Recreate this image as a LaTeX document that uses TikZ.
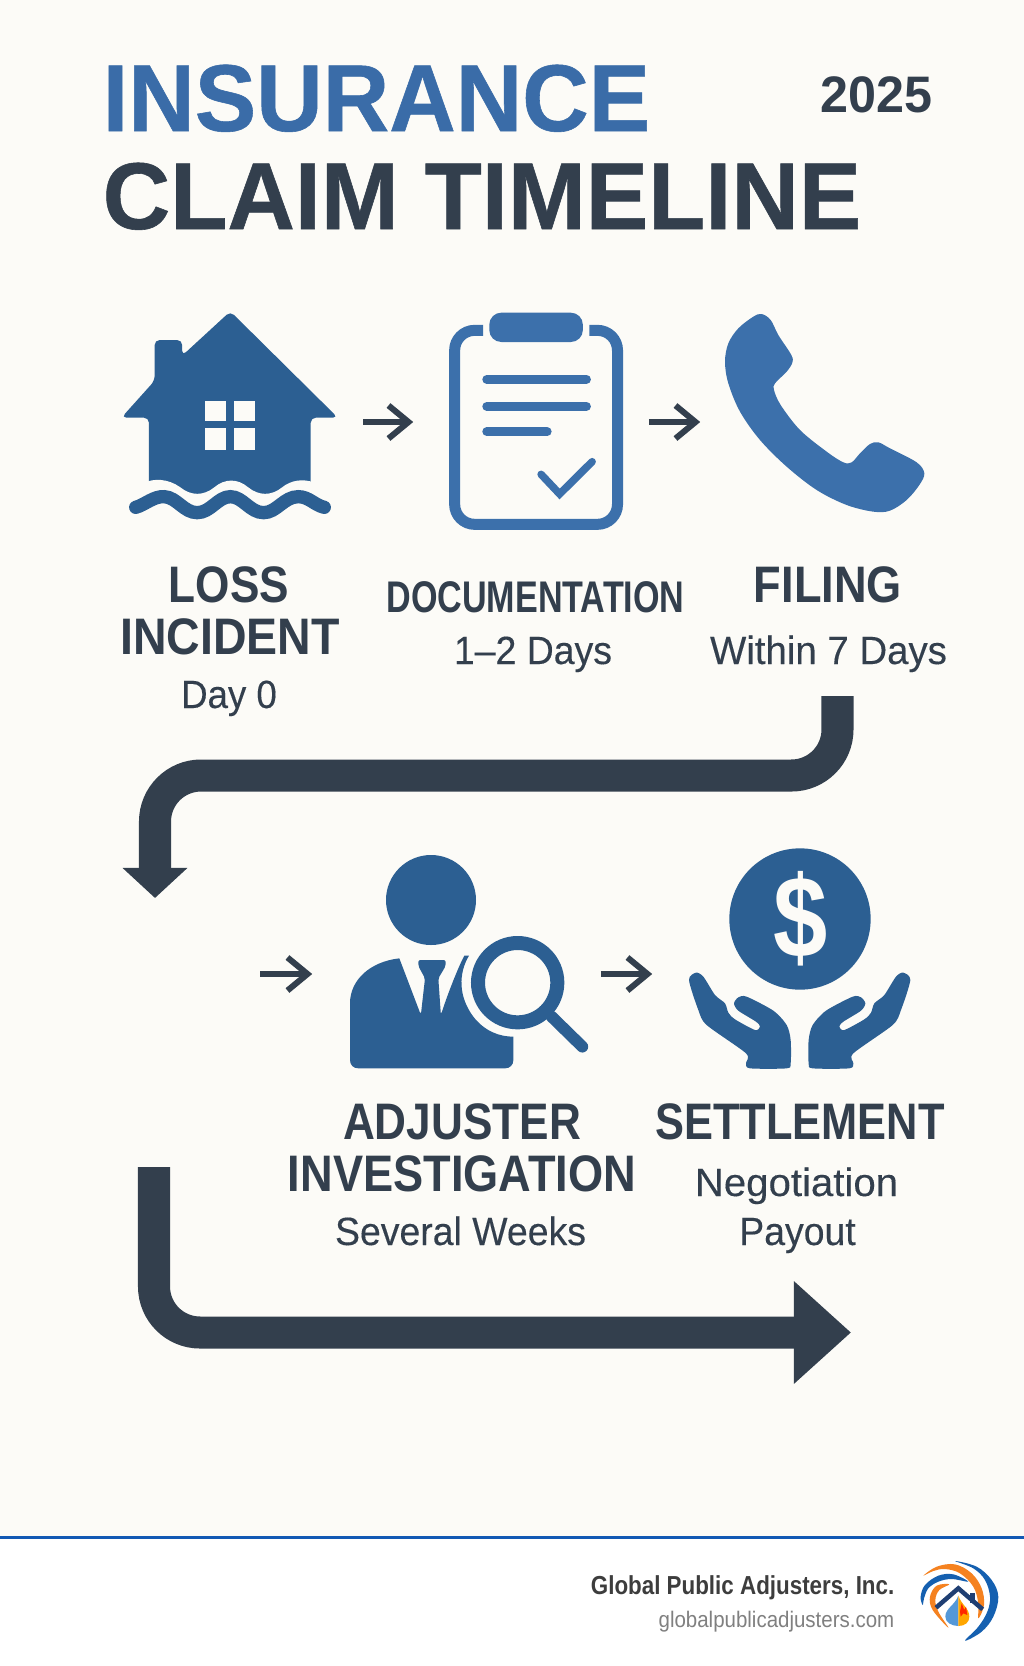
\documentclass[tikz,border=0pt]{standalone}
\usepackage{fontspec}
\usetikzlibrary{arrows.meta}
\setmainfont{Liberation Sans}
\newfontfamily\notefont[FakeBold=0.25]{Liberation Sans}
\newfontfamily\heavyfont[UprightFont=* Bold, FakeBold=0.6]{Liberation Sans}

\definecolor{paper}{HTML}{FCFBF7}
\definecolor{ink}{HTML}{333F4D}
\definecolor{deepblue}{HTML}{2C5F92}
\definecolor{midblue}{HTML}{3C70AB}
\definecolor{titleblue}{HTML}{3A6CA8}
\definecolor{rulecol}{HTML}{1259B4}
\definecolor{logoblue}{HTML}{1560B0}
\definecolor{logoorange}{HTML}{F58220}
\definecolor{roofcol}{HTML}{1F3F73}

\newcommand{\squeezed}[2]{\scalebox{#1}[1]{#2}}

\tikzset{
    txt/.style={anchor=base, inner sep=0pt, text=ink},
    headline/.style={txt, anchor=base west, font=\heavyfont\fontsize{27}{27}\selectfont},
    steptitle/.style={txt, font=\fontsize{14.6}{15}\selectfont\bfseries},
    stepnote/.style={txt, font=\notefont\fontsize{11.2}{12}\selectfont},
    iconbox/.style={inner sep=0pt, minimum height=0.4cm},
    smallarrow/.style={-{Straight Barb[length=2mm,width=3.3mm,line width=0.6mm]}, line width=0.6mm, color=ink},
    bigarrow/.style={line width=3.2mm, color=ink, rounded corners=4.6mm},
    wave/.style={line width=1.33mm, line cap=round, color=deepblue},
    bar/.style={line width=0.9mm, line cap=round, color=midblue},
}

\begin{document}
\begin{tikzpicture}[x=0.01cm, y=-0.01cm]

    \useasboundingbox (0,0) rectangle (1024,1666);

    % Page
    \fill[paper] (0,0) rectangle (1024,1537);
    \fill[white] (0,1537) rectangle (1024,1666);
    \draw[rulecol, line width=0.3mm] (0,1537) -- (1024,1537);

    %% Title
    \node[headline, text=titleblue] (title1) at (102,131) {\squeezed{0.97}{INSURANCE}};
    \node[headline] (title2) at (102,229) {\squeezed{0.985}{CLAIM TIMELINE}};
    \node[txt, font=\fontsize{14.6}{15}\selectfont\bfseries] (year) at (876.5,112) {\squeezed{0.98}{2025}};

    %% Icon places, first row
    \node[iconbox, minimum width=2.14cm] (house) at (229.5,422) {};
    \node[iconbox, minimum width=1.74cm] (clipboard) at (536,422) {};
    \node[iconbox, minimum width=2cm] (phone) at (825,422) {};

    % House
    \begin{scope}[shift={(100,290)}, xscale=0.35714, yscale=0.33333]
        \fill[deepblue, rounded corners=0.5mm] (365,64) -- (666,383) -- (590,383) -- (590,640) -- (137,640) -- (137,383) -- (60,383)
            -- (153,272) -- (153,150) -- (230,150) -- (230,197) -- cycle;
        \fill[paper] (125,578) .. controls (150,565) and (190,565) .. (225,592)
            .. controls (255,618) and (290,618) .. (320,592)
            .. controls (350,565) and (385,565) .. (415,592)
            .. controls (445,618) and (480,618) .. (510,592)
            .. controls (535,570) and (570,565) .. (600,578) -- (600,650) -- (125,650) -- cycle;
        \fill[paper] (293,332) rectangle (353,394);
        \fill[paper] (374,332) rectangle (435,394);
        \fill[paper] (293,415) rectangle (353,480);
        \fill[paper] (374,415) rectangle (435,480);
        \draw[wave] (100,652) .. controls (125,645) and (150,618) .. (180,620)
            .. controls (215,622) and (235,668) .. (272,668)
            .. controls (310,668) and (330,620) .. (365,620)
            .. controls (400,620) and (420,668) .. (458,668)
            .. controls (495,668) and (515,620) .. (555,620)
            .. controls (585,620) and (600,645) .. (628,652);
    \end{scope}

    % Clipboard
    \begin{scope}[shift={(100,290)}, xscale=0.35714, yscale=0.33333]
        \draw[midblue, line width=1.1mm, rounded corners=2mm] (1073,121) -- (993,121) -- (993,703) -- (1449,703) -- (1449,121) -- (1370,121);
        \fill[midblue, rounded corners=1.2mm] (1090,68) rectangle (1352,156);
        \draw[bar] (1083,268) -- (1362,268);
        \draw[bar] (1083,349) -- (1362,349);
        \draw[bar] (1083,425) -- (1252,425);
        \draw[midblue, line width=0.75mm, line cap=round] (1235,553) -- (1287,612) -- (1378,515);
    \end{scope}

    % Phone
    \begin{scope}[shift={(660,290)}, scale=0.33333]
        \fill[midblue] plot[smooth cycle, tension=0.55] coordinates {
            (305,72) (332,90) (355,135) (394,195) (397,218) (380,245) (345,280) (342,300) (362,345)
            (420,420) (500,485) (550,517) (575,517) (600,490) (630,462) (655,457) (690,475)
            (770,517) (793,550) (778,585) (740,630) (690,662) (640,665) (560,645) (470,600)
            (380,530) (300,450) (240,365) (205,280) (195,215) (205,160) (235,115) (280,80)};
    \end{scope}

    % Arrows of first row
    \draw[smallarrow, shorten <=0.26cm, shorten >=0.35cm] (house) -- (clipboard);
    \draw[smallarrow, shorten <=0.25cm, shorten >=0.24cm] (clipboard) -- (phone);

    %% Labels, first row
    \node[steptitle] (loss) at (229,602) {\squeezed{0.86}{LOSS}};
    \node[steptitle] (incident) at (230,654) {\squeezed{0.905}{INCIDENT}};
    \node[stepnote] (day) at (229,708) {\squeezed{0.93}{Day 0}};
    \node[steptitle, font=\fontsize{12.6}{13}\selectfont\bfseries] (docs) at (535.5,612) {\squeezed{0.77}{DOCUMENTATION}};
    \node[stepnote] (docsnote) at (533,664) {\squeezed{0.95}{1–2 Days}};
    \node[steptitle] (filing) at (828,602) {\squeezed{0.88}{FILING}};
    \node[stepnote] (filingnote) at (828.5,664) {\squeezed{0.975}{Within 7 Days}};

    %% Long arrows
    \coordinate (rowoneout) at (837.5,696);
    \coordinate (rowtwoin) at (155,898);
    \draw[bigarrow, -{Triangle[length=3mm,width=6.3mm]}] (rowoneout) |- (155,775.5) -- (rowtwoin);

    \coordinate (rowtwoout) at (154,1167);
    \coordinate (finish) at (851,1332.5);
    \draw[bigarrow, -{Triangle[length=5.7mm,width=9.9mm]}] (rowtwoout) |- (finish);

    %% Icon places, second row
    \coordinate (incoming) at (260,974);
    \node[iconbox, minimum width=2.39cm] (adjuster) at (468.5,974) {};
    \node[iconbox, minimum width=2.24cm] (settlement) at (800,974) {};

    % Adjuster
    \begin{scope}[shift={(330,840)}, scale=0.33333]
        \fill[deepblue] (303,180) circle (135);
        \fill[deepblue] (60,650) -- (60,490) .. controls (60,420) and (120,365) .. (208,355) -- (270,518) -- (335,518)
            .. controls (350,470) and (385,380) .. (403,347) -- (417,347)
            .. controls (385,400) and (385,470) .. (430,530)
            .. controls (465,575) and (510,590) .. (550,590)
            -- (550,660) .. controls (550,675) and (540,685) .. (525,685)
            -- (85,685) .. controls (70,685) and (60,675) .. (60,660) -- cycle;
        \fill[deepblue, rounded corners=0.2mm] (265,360) -- (347,360) -- (347,378) -- (325,415) -- (333,530) -- (272,530) -- (285,415) -- (265,378) -- cycle;
        \draw[deepblue, line width=1.4mm] (563,428) circle (119);
        \draw[deepblue, line width=1.17mm, line cap=round] (665,530) -- (757,620);
    \end{scope}

    % Settlement
    \begin{scope}[shift={(670,840)}, scale=0.33333]
        \fill[deepblue] (390,237) circle (212);
        \node[font=\fontsize{33}{33}\selectfont\bfseries, text=paper, inner sep=0pt] (dollar) at (392,235) {\squeezed{0.84}{\$}};
        \foreach \mirror/\place in {1/0, -1/778} {
            \begin{scope}[shift={(\place,0)}, xscale=\mirror]
                \fill[deepblue] plot[smooth cycle, tension=0.45] coordinates {
                    (57,420) (78,398) (100,410) (135,465) (165,490) (175,518) (195,538) (255,570) (270,560)
                    (258,545) (205,512) (192,490) (205,472) (230,470) (310,512) (350,555) (362,600) (362,670)
                    (350,685) (240,685) (228,670) (228,640) (110,555) (85,510)};
            \end{scope}
        }
    \end{scope}

    % Arrows of second row
    \draw[smallarrow, shorten >=0.36cm] (incoming) -- (adjuster);
    \draw[smallarrow, shorten <=0.12cm, shorten >=0.35cm] (adjuster) -- (settlement);

    %% Labels, second row
    \node[steptitle] (adj1) at (462,1139) {\squeezed{0.86}{ADJUSTER}};
    \node[steptitle] (adj2) at (462,1191) {\squeezed{0.88}{INVESTIGATION}};
    \node[stepnote] (adjnote) at (460.5,1245) {\squeezed{0.95}{Several Weeks}};
    \node[steptitle] (settle) at (800,1139) {\squeezed{0.845}{SETTLEMENT}};
    \node[stepnote] (settle1) at (796.5,1196) {\squeezed{1.02}{Negotiation}};
    \node[stepnote] (settle2) at (797.5,1245) {\squeezed{0.95}{Payout}};

    %% Footer
    \node[txt, anchor=base east, font=\fontsize{7.4}{8}\selectfont\bfseries, text=black!76] (company) at (895,1594) {\squeezed{0.86}{Global Public Adjusters, Inc.}};
    \node[txt, anchor=base east, font=\fontsize{6.4}{7}\selectfont, text=black!50] (website) at (895,1627) {\squeezed{0.91}{globalpublicadjusters.com}};

    % Logo
    \begin{scope}[shift={(910,1555)}, scale=0.33333]
        \fill[logoblue] plot[smooth cycle, tension=0.6] coordinates {(135,18) (200,35) (245,75) (265,125) (250,185) (215,230) (165,257) (205,215) (232,170) (240,125) (225,75) (190,40)};
        \fill[logoorange] plot[smooth cycle, tension=0.6] coordinates {(40,62) (80,35) (135,28) (185,55) (215,100) (222,150) (205,190) (205,145) (190,95) (150,55) (105,42) (70,48)};
        \fill[logoblue] plot[smooth cycle, tension=0.6] coordinates {(38,150) (32,125) (45,90) (85,62) (130,58) (175,80) (125,72) (85,80) (55,100) (42,130)};
        \fill[logoorange] plot[smooth cycle, tension=0.6] coordinates {(118,88) (80,92) (60,125) (68,165) (115,218) (85,170) (76,135) (88,105)};
        \fill[roofcol] (180,115) rectangle (195,145);
        \draw[roofcol, line width=0.45mm] (78,158) -- (145,100) -- (218,163);
        \fill[cyan!60!blue!70] (145,122) .. controls (135,150) and (106,160) .. (106,185) .. controls (106,202) and (125,213) .. (145,213) -- cycle;
        \fill[orange!70!yellow] (145,122) .. controls (155,150) and (178,160) .. (178,185) .. controls (178,202) and (165,213) .. (145,213) -- cycle;
        \fill[red!70!orange] (150,170) -- (155,145) -- (163,165) -- (168,155) -- (172,180) -- (160,175) -- (152,185) -- cycle;
    \end{scope}

\end{tikzpicture}
\end{document}
